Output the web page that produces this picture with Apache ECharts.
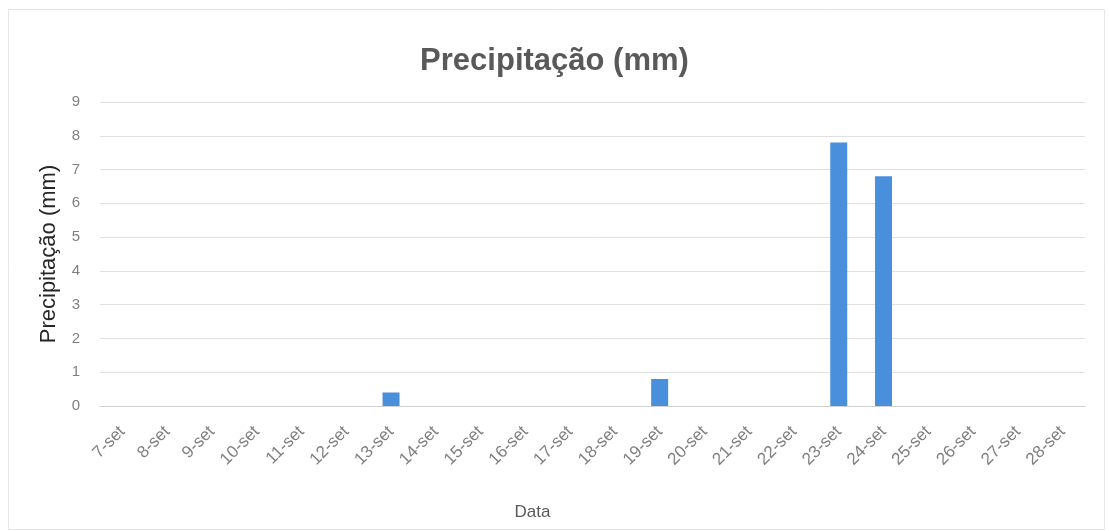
<!DOCTYPE html>
<html>
<head>
<meta charset="utf-8">
<script src="https://cdn.jsdelivr.net/npm/echarts@6/dist/echarts.min.js"></script>
<style>html,body{margin:0;padding:0;background:#fff}#c{width:1109px;height:531px}</style>
</head>
<body>
<div id="c"></div>
<script>
const categories = ['7-set','8-set','9-set','10-set','11-set','12-set','13-set','14-set','15-set','16-set','17-set','18-set','19-set','20-set','21-set','22-set','23-set','24-set','25-set','26-set','27-set','28-set'];
const precipitation = [0,0,0,0,0,0,0.4,0,0,0,0,0,0.8,0,0,0,7.8,6.8,0,0,0,0];
const yTicks = [0,1,2,3,4,5,6,7,8,9];

const chart = echarts.init(document.getElementById('c'));
chart.setOption({
  animation: false,
  backgroundColor: '#fff',
  graphic: [{
    type: 'rect', left: 6, top: 7,
    shape: { width: 1096, height: 520 },
    style: { fill: 'none', stroke: '#e6e6e6', lineWidth: 1 }
  }],
  title: {
    text: 'Precipitação (mm)', left: 'center', top: 41,
    textStyle: { fontFamily: 'Liberation Sans', fontSize: 31, fontWeight: 'bold', color: '#595959' }
  },
  grid: { left: 100, right: 24, top: 102, bottom: 125 },
  xAxis: {
    type: 'category', data: categories,
    name: 'Data', nameLocation: 'middle', nameGap: 98,
    nameTextStyle: { fontFamily: 'Liberation Sans', fontSize: 17, color: '#595959', padding: [0, 120, 0, 0] },
    axisTick: { show: false },
    axisLine: { lineStyle: { color: '#d0d0d0' } },
    axisLabel: { rotate: 45, color: '#7f7f7f', fontFamily: 'Liberation Sans', fontSize: 17, margin: 23, interval: 0 }
  },
  yAxis: {
    type: 'value', min: yTicks[0], max: yTicks[yTicks.length - 1], interval: 1,
    name: 'Precipitação (mm)', nameLocation: 'middle', nameGap: 40, nameRotate: 90,
    nameTextStyle: { fontFamily: 'Liberation Sans', fontSize: 22, color: '#262626' },
    axisLine: { show: false }, axisTick: { show: false },
    axisLabel: { color: '#7f7f7f', fontFamily: 'Liberation Sans', fontSize: 15, margin: 20 },
    splitLine: { lineStyle: { color: '#e0e0e0' } }
  },
  series: [{
    type: 'bar', data: precipitation, barWidth: 17,
    itemStyle: { color: '#4a8fdc' }
  }]
});
</script>
</body>
</html>
